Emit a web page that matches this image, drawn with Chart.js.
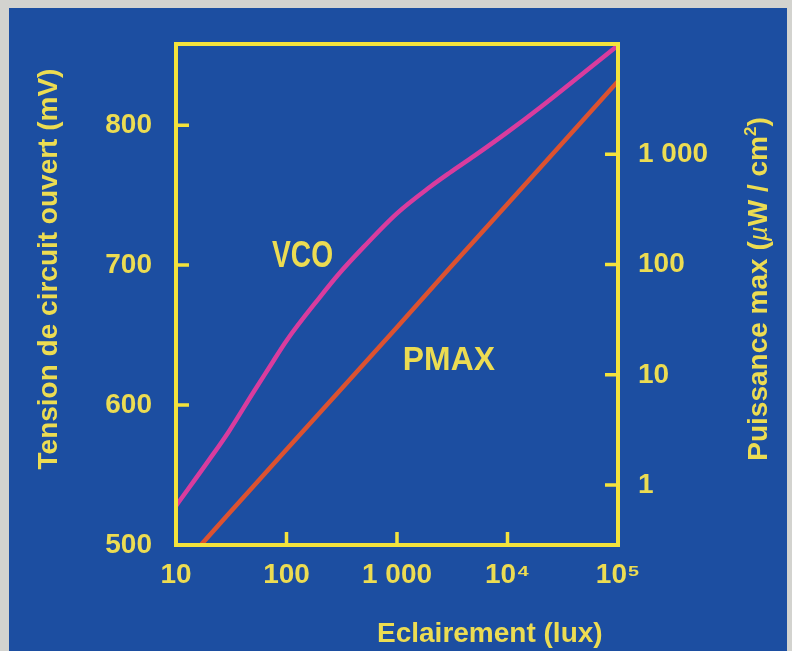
<!DOCTYPE html>
<html>
<head>
<meta charset="utf-8">
<script src="https://cdn.jsdelivr.net/npm/chart.js@4.4.1/dist/chart.umd.min.js"></script>
<style>
  html, body { margin: 0; padding: 0; background: #d3d3cf; }
  #wrap { width: 792px; height: 651px; }
  canvas { display: block; }
</style>
</head>
<body>
<div id="wrap"><canvas id="chart" width="792" height="651"></canvas></div>
<script>
// Open-circuit voltage (mV) versus illumination (lux)
const luxVco = [10, 20, 30, 50, 70, 100, 200, 300, 500, 1000, 2000, 3000, 5000, 10000, 20000, 50000, 100000];
const vco    = [528, 561, 581, 609, 627, 646, 677, 694, 713, 737, 756, 766, 778, 795, 813, 838, 857];

// Maximum power (µW/cm²) versus illumination (lux)
const luxPmax = [17, 30, 50, 100, 300, 1000, 3000, 10000, 30000, 100000];
const pmax    = [0.29, 0.55, 0.97, 2.1, 7.1, 27, 93, 354, 1200, 4600];

// Axis ticks
const luxTicks = [10, 100, 1000, 10000, 100000];
const luxTickLabels = ['10', '100', '1 000', '10⁴', '10⁵'];
const mvTicks = [500, 600, 700, 800];
const powerTicks = [1, 10, 100, 1000];
const powerTickLabels = ['1', '10', '100', '1 000'];

const BLUE = '#1c4ea1';
const PAPER = '#d3d3cf';
const YELLOW = '#f3e33c';
const TEXT = '#ecdc52';
const MAGENTA = '#d93c9e';
const RED = '#dc5230';
const FONT = '"Liberation Sans", Arial, Helvetica, sans-serif';

const backdrop = {
  id: 'backdrop',
  beforeDraw(chart) {
    const c = chart.ctx;
    c.save();
    c.fillStyle = PAPER;
    c.fillRect(0, 0, chart.width, chart.height);
    c.fillStyle = BLUE;
    c.fillRect(9, 8, chart.width - 14, chart.height - 8);
    c.restore();
  }
};

// Yellow frame around the plot area with inward ticks
const frame = {
  id: 'frame',
  afterDatasetsDraw(chart) {
    const c = chart.ctx;
    const a = chart.chartArea;
    const sx = chart.scales.x, sy = chart.scales.y, sy1 = chart.scales.y1;
    const len = 13;
    c.save();
    c.strokeStyle = YELLOW;
    c.lineWidth = 4;
    c.lineCap = 'butt';
    c.strokeRect(a.left, a.top, a.right - a.left, a.bottom - a.top);
    c.lineWidth = 3.5;
    c.beginPath();
    mvTicks.forEach(v => {
      if (v <= sy.min || v >= sy.max) return;
      const y = sy.getPixelForValue(v);
      c.moveTo(a.left, y); c.lineTo(a.left + len, y);
    });
    powerTicks.forEach(v => {
      const y = sy1.getPixelForValue(v);
      c.moveTo(a.right, y); c.lineTo(a.right - len, y);
    });
    luxTicks.forEach(v => {
      if (v <= sx.min || v >= sx.max) return;
      const x = sx.getPixelForValue(v);
      c.moveTo(x, a.bottom); c.lineTo(x, a.bottom - len);
    });
    c.stroke();
    c.restore();
  }
};

// Draw a sequence of text runs along the baseline
function drawRuns(c, runs, x, y) {
  let cx = x;
  runs.forEach(r => {
    c.font = r.font;
    c.fillText(r.text, cx, y + (r.dy || 0));
    cx += c.measureText(r.text).width;
  });
  return cx - x;
}
function runsWidth(c, runs) {
  let w = 0;
  runs.forEach(r => { c.font = r.font; w += c.measureText(r.text).width; });
  return w;
}

const labels = {
  id: 'labels',
  afterDraw(chart) {
    const c = chart.ctx;
    const sx = chart.scales.x, sy = chart.scales.y, sy1 = chart.scales.y1;
    c.save();
    c.fillStyle = TEXT;
    c.textBaseline = 'alphabetic';
    c.textAlign = 'left';

    // Curve names
    c.font = 'bold 36px ' + FONT;
    c.fillText('VCO', sx.getPixelForValue(74), sy.getPixelForValue(699), 61);
    c.font = 'bold 33px ' + FONT;
    c.fillText('PMAX', sx.getPixelForValue(1130), sy1.getPixelForValue(11), 92);

    // X axis title
    c.font = 'bold 28px ' + FONT;
    c.fillText('Eclairement (lux)', 377, 642);

    // Left axis title
    c.save();
    c.translate(57, 269);
    c.rotate(-Math.PI / 2);
    c.textAlign = 'center';
    c.font = 'bold 28px ' + FONT;
    c.fillText('Tension de circuit ouvert (mV)', 0, 0);
    c.restore();

    // Right axis title
    const runs = [
      { text: 'Puissance max (', font: 'bold 28px ' + FONT },
      { text: 'µ', font: 'italic 26px ' + FONT },
      { text: 'W / cm', font: 'bold 28px ' + FONT },
      { text: '2', font: 'bold 17px ' + FONT, dy: -11 },
      { text: ')', font: 'bold 28px ' + FONT }
    ];
    c.save();
    c.translate(767, 289);
    c.rotate(-Math.PI / 2);
    const w = runsWidth(c, runs);
    drawRuns(c, runs, -w / 2, 0);
    c.restore();

    c.restore();
  }
};

const tickFont = { family: FONT, size: 28, weight: 'bold' };

new Chart(document.getElementById('chart'), {
  type: 'line',
  data: {
    datasets: [
      {
        label: 'VCO',
        data: luxVco.map((x, i) => ({ x, y: vco[i] })),
        yAxisID: 'y',
        borderColor: MAGENTA,
        borderWidth: 4.5,
        pointRadius: 0,
        cubicInterpolationMode: 'monotone',
        fill: false
      },
      {
        label: 'PMAX',
        data: luxPmax.map((x, i) => ({ x, y: pmax[i] })),
        yAxisID: 'y1',
        borderColor: RED,
        borderWidth: 4.5,
        pointRadius: 0,
        tension: 0,
        fill: false
      }
    ]
  },
  options: {
    responsive: false,
    animation: false,
    devicePixelRatio: 1,
    layout: { padding: { top: 44, left: 0, right: 0, bottom: 0 } },
    plugins: { legend: { display: false }, tooltip: { enabled: false } },
    scales: {
      x: {
        type: 'logarithmic',
        position: 'bottom',
        min: 10,
        max: 100000,
        afterBuildTicks: s => { s.ticks = luxTicks.map(v => ({ value: v })); },
        afterFit: s => { s.height = 106; },
        grid: { display: false, drawTicks: false },
        border: { display: false },
        ticks: {
          color: TEXT, font: tickFont, padding: 13, autoSkip: false, maxRotation: 0,
          callback: v => luxTickLabels[luxTicks.indexOf(v)]
        }
      },
      y: {
        type: 'linear',
        position: 'left',
        min: 500,
        max: 858,
        afterBuildTicks: s => { s.ticks = mvTicks.map(v => ({ value: v })); },
        afterFit: s => { s.width = 176; },
        grid: { display: false, drawTicks: false },
        border: { display: false },
        ticks: { color: TEXT, font: tickFont, padding: 24, callback: v => String(v) }
      },
      y1: {
        type: 'logarithmic',
        position: 'right',
        min: 0.286,
        max: 10000,
        afterBuildTicks: s => { s.ticks = powerTicks.map(v => ({ value: v })); },
        afterFit: s => { s.width = 174; },
        grid: { display: false, drawTicks: false },
        border: { display: false },
        ticks: {
          color: TEXT, font: tickFont, padding: 20,
          callback: v => powerTickLabels[powerTicks.indexOf(v)]
        }
      }
    }
  },
  plugins: [backdrop, frame, labels]
});
</script>
</body>
</html>
